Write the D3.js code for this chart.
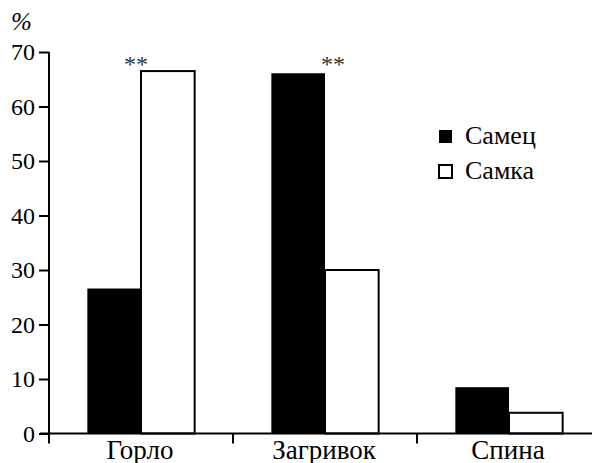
<!DOCTYPE html>
<html>
<head>
<meta charset="utf-8">
<script src="https://cdn.jsdelivr.net/npm/d3@7"></script>
<style>
  body { margin: 0; background: #fff; }
</style>
</head>
<body>
<div class="chart"></div>
<script>
// Data
var categories = ["Горло", "Загривок", "Спина"];
var seriesNames = ["Самец", "Самка"];
var maleValues = [26.6, 66.1, 8.5];
var femaleValues = [66.5, 30.0, 3.8];
var yTicks = [0, 10, 20, 30, 40, 50, 60, 70];
var marks = ["**", "**"];   // significance, over Горло and Загривок

var svg_width = 592;
var svg_height = 463;
var serif = "Liberation Serif";

var svg = d3.select(".chart").append("svg")
  .attr("width", svg_width)
  .attr("height", svg_height)
  .style("display", "block")
  .style("font-family", serif);

// Scales
var x0 = d3.scaleBand()
  .domain(categories)
  .range([49, 601])
  .paddingInner(0)
  .paddingOuter(0);

var x1 = d3.scaleBand()
  .domain(seriesNames)
  .range([0, x0.bandwidth()])
  .paddingInner(0)
  .paddingOuter(0.715);

var y = d3.scaleLinear()
  .domain([0, 70])
  .range([433.5, 52]);

// Bars
var rows = categories.map(function(c, i) {
  return [{cat: c, s: "Самец", v: maleValues[i]}, {cat: c, s: "Самка", v: femaleValues[i]}];
});

var groups = svg.selectAll("g.grp")
  .data(rows)
  .enter()
  .append("g")
  .attr("class", "grp")
  .attr("transform", function(d, i) { return "translate(" + x0(categories[i]) + ",0)"; });

groups.selectAll("rect")
  .data(function(d) { return d; })
  .enter()
  .append("rect")
  .attr("x", function(d) { return x1(d.s); })
  .attr("y", function(d) { return y(d.v); })
  .attr("width", x1.bandwidth())
  .attr("height", function(d) { return y(0) - y(d.v); })
  .attr("fill", function(d) { return d.s == "Самец" ? "#000" : "#fff"; })
  .attr("stroke", "#000")
  .attr("stroke-width", function(d) { return d.s == "Самец" ? 0 : 2; });

// Y axis
var yAxis = d3.axisLeft(y)
  .tickValues(yTicks)
  .tickSize(10)
  .tickPadding(4)
  .tickFormat(d3.format("d"));

var gy = svg.append("g")
  .attr("transform", "translate(49,0)")
  .call(yAxis);
gy.attr("font-family", null).attr("font-size", null);
gy.select(".domain").attr("stroke-width", 2).attr("d", "M0," + y(70) + "V" + y(0));
gy.selectAll(".tick line").attr("stroke-width", 2);
gy.selectAll(".tick text")
  .style("font-family", serif)
  .style("font-size", "24px")
  .attr("fill", "#000");

// X axis: line plus ticks on the band borders
svg.append("line")
  .attr("x1", 40).attr("x2", 592)
  .attr("y1", y(0)).attr("y2", y(0))
  .attr("stroke", "#000").attr("stroke-width", 2);

svg.selectAll("line.xtick")
  .data(categories)
  .enter()
  .append("line")
  .attr("class", "xtick")
  .attr("x1", function(d) { return x0(d); })
  .attr("x2", function(d) { return x0(d); })
  .attr("y1", y(0))
  .attr("y2", y(0) + 10)
  .attr("stroke", "#000").attr("stroke-width", 2);

svg.selectAll("text.cat")
  .data(categories)
  .enter()
  .append("text")
  .attr("class", "cat")
  .text(function(d) { return d; })
  .attr("x", function(d) { return x0(d) + x0.bandwidth() / 2 - 1; })
  .attr("y", 459)
  .style("font-family", serif)
  .style("font-size", "27px")
  .attr("text-anchor", "middle");

// Unit label
svg.append("text")
  .text("%")
  .attr("x", 11)
  .attr("y", 30)
  .style("font-family", serif)
  .style("font-size", "25px")
  .style("font-style", "italic");

// Significance marks
svg.selectAll("text.sig")
  .data(marks)
  .enter()
  .append("text")
  .attr("class", "sig")
  .text(function(d) { return d; })
  .attr("x", function(d, i) {
    return i == 0 ? x0(categories[0]) + x1("Самка") - 5 : x0(categories[1]) + x1("Самка") + 8;
  })
  .attr("y", function(d, i) { return i == 0 ? y(femaleValues[0]) + 1 : y(maleValues[1]) - 1; })
  .style("font-family", serif)
  .style("font-size", "24px")
  .attr("fill", "#333")
  .attr("text-anchor", "middle");

// Legend
var legend = svg.selectAll("g.leg")
  .data(seriesNames)
  .enter()
  .append("g")
  .attr("class", "leg")
  .attr("transform", function(d, i) { return "translate(439," + (130 + i * 35) + ")"; });

legend.append("rect")
  .attr("width", 13)
  .attr("height", 13)
  .attr("fill", function(d, i) { return i == 0 ? "#000" : "#fff"; })
  .attr("stroke", "#000")
  .attr("stroke-width", function(d, i) { return i == 0 ? 0 : 2; });

legend.append("text")
  .text(function(d) { return d; })
  .attr("x", 26)
  .attr("y", 14)
  .style("font-family", serif)
  .style("font-size", "26px");
</script>
</body>
</html>
